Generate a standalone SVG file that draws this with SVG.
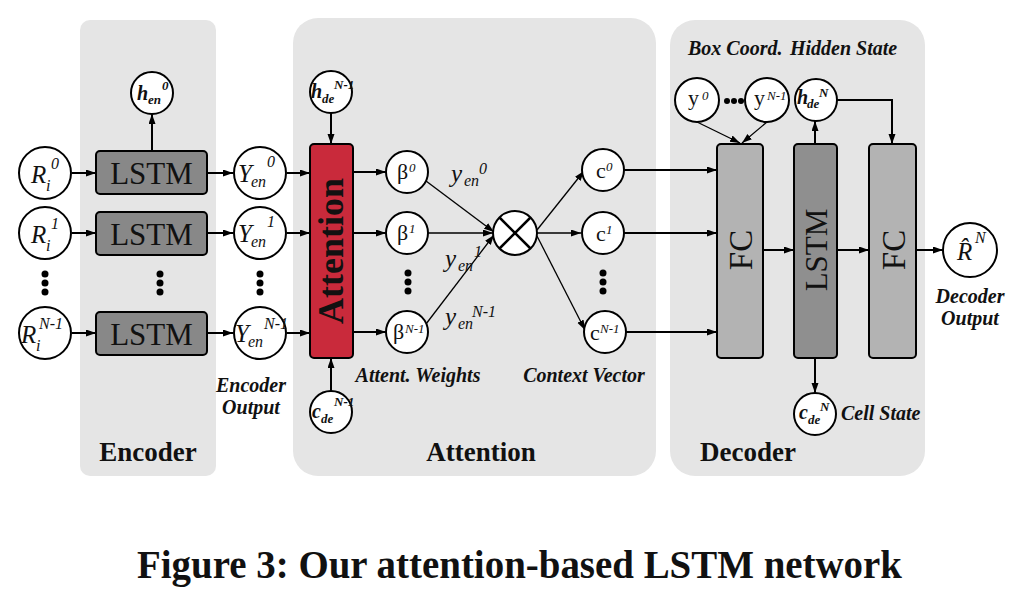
<svg xmlns="http://www.w3.org/2000/svg" width="1022" height="591" viewBox="0 0 1022 591">
<defs>
<marker id="ah" markerUnits="userSpaceOnUse" markerWidth="11" markerHeight="8" refX="10" refY="3.5" orient="auto">
<path d="M0,0 L10,3.5 L0,7 z" fill="#000"/>
</marker>
<style>
.panel{fill:#e5e5e5}
.node{fill:#fff;stroke:#000;stroke-width:2}
.lstm{fill:#888;stroke:#000;stroke-width:2}
.fc{fill:#b3b3b3;stroke:#000;stroke-width:2}
.dlstm{fill:#8f8f8f;stroke:#000;stroke-width:2}
.att{fill:#c92a3b;stroke:#000;stroke-width:2}
.c{stroke:#000;stroke-width:2;fill:none;marker-end:url(#ah)}
.t{stroke:#000;stroke-width:1.3;fill:none;marker-end:url(#ah)}
.dot{fill:#000}
text{font-family:"Liberation Serif",serif;fill:#111}
.mi{font-style:italic;font-size:25px}
.ms{font-style:italic;font-size:16px}
.bi{font-style:italic;font-weight:bold;font-size:20px}
.bs{font-style:italic;font-weight:bold;font-size:13px}
.lab{font-style:italic;font-weight:bold;font-size:20px}
.plab{font-weight:bold;font-size:27px}
.box{font-size:31px}
.up{font-size:22px}
.us{font-size:13px;font-style:italic}
</style>
</defs>
<rect width="1022" height="591" fill="#fff"/>
<g id="panels">
<rect class="panel" x="80" y="20" width="136" height="456" rx="10"/>
<rect class="panel" x="293" y="18" width="363" height="458" rx="25"/>
<rect class="panel" x="670" y="20" width="255" height="456" rx="25"/>
<text class="plab" x="148" y="461" text-anchor="middle">Encoder</text>
<text class="plab" x="481" y="461" text-anchor="middle">Attention</text>
<text class="plab" x="748" y="461" text-anchor="middle">Decoder</text>
</g>
<g id="connectors">
<line class="c" x1="72" y1="173" x2="96" y2="173"/>
<line class="c" x1="72" y1="233" x2="96" y2="233"/>
<line class="c" x1="72" y1="333" x2="96" y2="333"/>
<line class="c" x1="207" y1="173" x2="233" y2="173"/>
<line class="c" x1="207" y1="233" x2="233" y2="233"/>
<line class="c" x1="207" y1="333" x2="233" y2="333"/>
<line class="c" x1="152" y1="151" x2="152" y2="114"/>
<line class="c" x1="287" y1="173" x2="310" y2="173"/>
<line class="c" x1="287" y1="233" x2="310" y2="233"/>
<line class="c" x1="287" y1="333" x2="310" y2="333"/>
<line class="c" x1="331" y1="113" x2="331" y2="144"/>
<line class="c" x1="331" y1="391" x2="331" y2="358"/>
<line class="c" x1="353" y1="172" x2="386" y2="172"/>
<line class="c" x1="353" y1="233" x2="386" y2="233"/>
<line class="c" x1="353" y1="332" x2="386" y2="332"/>
<line class="t" x1="426" y1="181" x2="494" y2="232"/>
<line class="t" x1="428" y1="233" x2="493" y2="233"/>
<line class="t" x1="426" y1="324" x2="494" y2="235"/>
<line class="t" x1="537" y1="230" x2="584" y2="171"/>
<line class="t" x1="537" y1="233" x2="581" y2="233"/>
<line class="t" x1="537" y1="236" x2="585" y2="330"/>
<line class="c" x1="624" y1="170" x2="717" y2="170"/>
<line class="c" x1="624" y1="233" x2="717" y2="233"/>
<line class="c" x1="626" y1="332" x2="717" y2="332"/>
<line class="t" x1="697" y1="122" x2="740" y2="143"/>
<line class="t" x1="767" y1="122" x2="742" y2="143"/>
<line class="c" x1="815" y1="144" x2="815" y2="121"/>
<polyline class="c" points="837,100 892,100 892,144"/>
<line class="c" x1="763" y1="250" x2="794" y2="250"/>
<line class="c" x1="837" y1="250" x2="869" y2="250"/>
<line class="c" x1="916" y1="250" x2="943" y2="250"/>
<line class="c" x1="815" y1="358" x2="815" y2="393"/>
</g>
<g id="enc-inputs">
<circle class="node" cx="45" cy="173" r="26"/>
<text class="mi" x="31" y="183">R</text><text class="ms" x="46" y="191">i</text><text class="ms" x="51" y="169">0</text>
<circle class="node" cx="45" cy="233" r="26"/>
<text class="mi" x="31" y="243">R</text><text class="ms" x="46" y="251">i</text><text class="ms" x="51" y="229">1</text>
<circle cx="45" cy="274" r="3.5" class="dot"/><circle cx="45" cy="283" r="3.5" class="dot"/><circle cx="45" cy="292" r="3.5" class="dot"/>
<circle class="node" cx="45" cy="333" r="26"/>
<text class="mi" x="21" y="343">R</text><text class="ms" x="36" y="351">i</text><text class="ms" x="39" y="329" font-size="15">N-1</text>
</g>
<g id="enc-lstm">
<rect class="lstm" x="96" y="151" width="111" height="43" rx="4"/>
<text class="box" x="151.5" y="184" text-anchor="middle">LSTM</text>
<rect class="lstm" x="96" y="212" width="111" height="43" rx="4"/>
<text class="box" x="151.5" y="245" text-anchor="middle">LSTM</text>
<circle cx="160" cy="274" r="3.5" class="dot"/><circle cx="160" cy="283" r="3.5" class="dot"/><circle cx="160" cy="292" r="3.5" class="dot"/>
<rect class="lstm" x="96" y="312" width="111" height="43" rx="4"/>
<text class="box" x="151.5" y="345" text-anchor="middle">LSTM</text>
</g>
<g id="h-en0">
<circle class="node" cx="152" cy="93" r="21"/>
<text class="bi" x="137" y="100">h</text><text class="bs" x="148" y="104">en</text><text class="bs" x="162" y="90">0</text>
</g>
<g id="enc-outputs">
<circle class="node" cx="260" cy="173" r="26"/>
<text class="mi" x="238" y="182">Y</text><text class="ms" x="251" y="187">en</text><text class="ms" x="267" y="167">0</text>
<circle class="node" cx="260" cy="233" r="26"/>
<text class="mi" x="238" y="242">Y</text><text class="ms" x="251" y="247">en</text><text class="ms" x="267" y="227">1</text>
<circle cx="260" cy="274" r="3.5" class="dot"/><circle cx="260" cy="283" r="3.5" class="dot"/><circle cx="260" cy="292" r="3.5" class="dot"/>
<circle class="node" cx="260" cy="333" r="26"/>
<text class="mi" x="235" y="342">Y</text><text class="ms" x="248" y="347">en</text><text class="ms" x="264" y="329" font-size="15">N-1</text>
<text class="lab" x="251" y="392" text-anchor="middle">Encoder</text>
<text class="lab" x="251" y="414" text-anchor="middle">Output</text>
</g>
<g id="attention">
<rect class="att" x="310" y="144" width="43" height="214" rx="4"/>
<text x="331" y="263" text-anchor="middle" font-weight="bold" font-size="36" transform="rotate(-90 331 251)">Attention</text>
</g>
<g id="h-de-prev">
<circle class="node" cx="331" cy="92" r="21"/>
<text class="bi" x="311" y="98">h</text><text class="bs" x="322" y="103">de</text><text class="bs" x="334" y="89" font-size="12">N-1</text>
</g>
<g id="c-de-prev">
<circle class="node" cx="331" cy="412" r="21"/>
<text class="bi" x="312" y="418">c</text><text class="bs" x="321" y="423">de</text><text class="bs" x="334" y="406" font-size="12">N-1</text>
</g>
<g id="betas">
<circle class="node" cx="407" cy="172" r="21"/>
<text class="up" x="397" y="179">β</text><text class="us" x="409" y="172">0</text>
<circle class="node" cx="407" cy="233" r="21"/>
<text class="up" x="397" y="240">β</text><text class="us" x="409" y="233">1</text>
<circle cx="408" cy="273" r="3.5" class="dot"/><circle cx="408" cy="282" r="3.5" class="dot"/><circle cx="408" cy="291" r="3.5" class="dot"/>
<circle class="node" cx="407" cy="332" r="21"/>
<text class="up" x="393" y="339">β</text><text class="us" x="405" y="333">N-1</text>
<text class="lab" x="418" y="382" text-anchor="middle">Attent. Weights</text>
</g>
<g id="weight-labels">
<text class="mi" x="451" y="182" font-size="22">y</text><text class="ms" x="464" y="186" font-size="15">en</text><text class="ms" x="479" y="174" font-size="14">0</text>
<text class="mi" x="445" y="267" font-size="22">y</text><text class="ms" x="458" y="271" font-size="15">en</text><text class="ms" x="474" y="257" font-size="14">1</text>
<text class="mi" x="445" y="325" font-size="22">y</text><text class="ms" x="458" y="329" font-size="15">en</text><text class="ms" x="472" y="317" font-size="14">N-1</text>
</g>
<g id="multiply">
<circle class="node" cx="515" cy="233" r="22"/>
<path d="M499.5,217.5 L530.5,248.5 M530.5,217.5 L499.5,248.5" stroke="#000" stroke-width="2.5"/>
</g>
<g id="contexts">
<circle class="node" cx="603" cy="170" r="21"/>
<text class="up" x="596" y="178" font-size="20">c</text><text class="us" x="606" y="171">0</text>
<circle class="node" cx="603" cy="233" r="21"/>
<text class="up" x="596" y="241" font-size="20">c</text><text class="us" x="606" y="234">1</text>
<circle cx="603" cy="273" r="3.5" class="dot"/><circle cx="603" cy="282" r="3.5" class="dot"/><circle cx="603" cy="291" r="3.5" class="dot"/>
<circle class="node" cx="605" cy="332" r="21"/>
<text class="up" x="590" y="340" font-size="20">c</text><text class="us" x="600" y="333">N-1</text>
<text class="lab" x="584" y="382" text-anchor="middle">Context Vector</text>
</g>
<g id="box-coord">
<text class="lab" x="688" y="55">Box Coord.</text>
<circle class="node" cx="697" cy="100" r="22"/>
<text class="up" x="688" y="105" font-size="24">y</text><text class="us" x="702" y="100">0</text>
<circle cx="727" cy="101" r="3" class="dot"/><circle cx="734" cy="101" r="3" class="dot"/><circle cx="741" cy="101" r="3" class="dot"/>
<circle class="node" cx="767" cy="100" r="22"/>
<text class="up" x="754" y="105" font-size="24">y</text><text class="us" x="767" y="100">N-1</text>
</g>
<g id="h-de-n">
<text class="lab" x="790" y="55">Hidden State</text>
<circle class="node" cx="816" cy="100" r="21"/>
<text class="bi" x="797" y="104">h</text><text class="bs" x="807" y="108">de</text><text class="bs" x="819" y="97">N</text>
</g>
<g id="fc1">
<rect class="fc" x="717" y="144" width="46" height="214" rx="4"/>
<text x="740" y="262" text-anchor="middle" font-size="33" transform="rotate(-90 740 250)">FC</text>
</g>
<g id="dec-lstm">
<rect class="dlstm" x="794" y="144" width="43" height="214" rx="4"/>
<text x="815.5" y="261" text-anchor="middle" font-size="31" transform="rotate(-90 815.5 250)">LSTM</text>
</g>
<g id="fc2">
<rect class="fc" x="869" y="144" width="47" height="214" rx="4"/>
<text x="892.5" y="262" text-anchor="middle" font-size="33" transform="rotate(-90 892.5 250)">FC</text>
</g>
<g id="c-de-n">
<circle class="node" cx="815" cy="414" r="21"/>
<text class="bi" x="799" y="419">c</text><text class="bs" x="808" y="424">de</text><text class="bs" x="820" y="411">N</text>
<text class="lab" x="841" y="420">Cell State</text>
</g>
<g id="output">
<circle class="node" cx="970" cy="250" r="27"/>
<text class="mi" x="957" y="260">R̂</text><text class="ms" x="975" y="243">N</text>
<text class="lab" x="970" y="303" text-anchor="middle">Decoder</text>
<text class="lab" x="970" y="325" text-anchor="middle">Output</text>
</g>
<g id="caption">
<text x="137" y="578" font-weight="bold" font-size="40" textLength="765" lengthAdjust="spacingAndGlyphs">Figure 3: Our attention-based LSTM network</text>
</g>
</svg>
